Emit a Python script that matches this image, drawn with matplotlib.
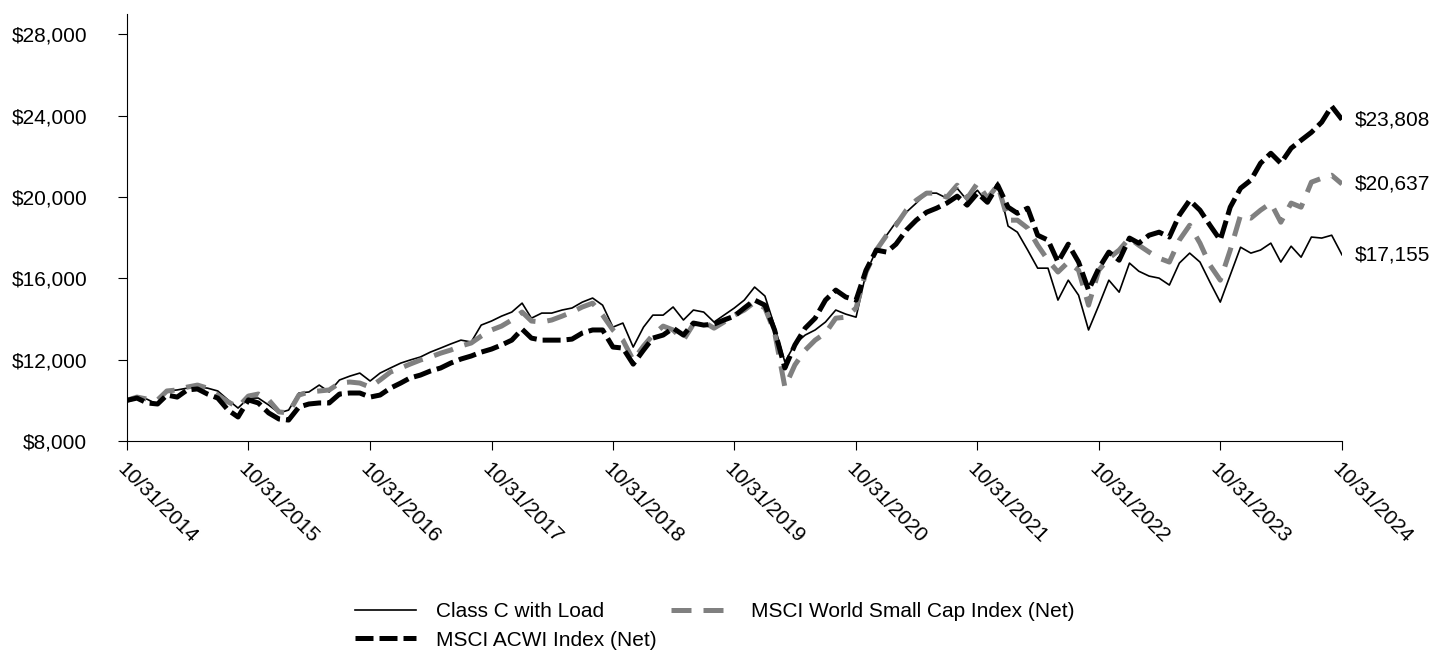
import pandas as pd
import matplotlib
matplotlib.use("Agg")
import matplotlib.pyplot as plt
import matplotlib.dates as mdates
from matplotlib.ticker import FuncFormatter

plt.rcParams['font.family'] = ['Liberation Sans', 'DejaVu Sans']

# monthly values, 10/31/2014 .. 10/31/2024
dates = pd.date_range('2014-10-31', periods=121, freq='ME')

class_c = [
    10000, 10200, 10050, 9800, 10460, 10510, 10600, 10650, 10600, 10460, 10020, 9620,
    10110, 10110, 9770, 9380, 9520, 10360, 10410, 10750, 10410, 11000, 11190, 11340,
    10950, 11340, 11590, 11830, 11980, 12130, 12370, 12570, 12770, 12960, 12870, 13700,
    13900, 14140, 14340, 14780, 14040, 14290, 14290, 14440, 14540, 14830, 15030, 14680,
    13600, 13800, 12620, 13600, 14190, 14190, 14590, 13950, 14440, 14340, 13850, 14190,
    14540, 14930, 15570, 15130, 13650, 11880, 12770, 13210, 13460, 13850, 14440, 14240,
    14090, 16260, 17390, 18120, 18760, 19250, 19700, 20190, 20190, 19940, 20430, 19840,
    20330, 19700, 20730, 18570, 18270, 17390, 16500, 16500, 14930, 15910, 15170, 13460,
    14680, 15910, 15320, 16750, 16350, 16110, 16010, 15670, 16750, 17240, 16800, 15810,
    14830, 16160, 17530, 17240, 17390, 17730, 16800, 17580, 17040, 18030, 17980, 18120,
    17155,
]

acwi = [
    10000, 10110, 9870, 9820, 10260, 10160, 10510, 10560, 10310, 10110, 9520, 9180,
    10020, 9870, 9380, 9080, 9030, 9670, 9820, 9870, 9870, 10310, 10360, 10360,
    10160, 10260, 10600, 10850, 11100, 11240, 11440, 11590, 11830, 12030, 12180, 12370,
    12520, 12720, 12960, 13500, 13060, 12960, 12960, 12960, 13010, 13310, 13460, 13460,
    12620, 12570, 11780, 12470, 13060, 13210, 13550, 13210, 13800, 13700, 13750, 13950,
    14140, 14540, 14930, 14680, 13460, 11590, 12720, 13550, 14040, 14930, 15420, 15080,
    14930, 16400, 17390, 17290, 17680, 18370, 18860, 19250, 19450, 19700, 20040, 19600,
    20190, 19740, 20580, 19500, 19200, 19450, 18120, 17880, 16800, 17680, 16800, 15420,
    16500, 17290, 16890, 17980, 17730, 18120, 18270, 18030, 19110, 19840, 19350, 18610,
    17880, 19500, 20430, 20830, 21660, 22150, 21660, 22400, 22790, 23180, 23680, 24460,
    23808,
]

small_cap = [
    10000, 10160, 10060, 10020, 10460, 10510, 10650, 10750, 10600, 10260, 9920, 9670,
    10210, 10310, 10020, 9430, 9380, 10260, 10410, 10460, 10510, 10850, 10900, 10850,
    10650, 11000, 11390, 11590, 11780, 11980, 12130, 12320, 12470, 12670, 12820, 13160,
    13460, 13650, 13950, 14340, 13900, 13850, 13950, 14140, 14340, 14590, 14780, 14190,
    13460, 12960, 11980, 12670, 13210, 13650, 13460, 12960, 13750, 13850, 13550, 13850,
    14190, 14440, 14830, 14540, 13360, 10650, 11740, 12470, 12960, 13310, 14040, 14090,
    14540, 16310, 17390, 18120, 18610, 19350, 19840, 20190, 20190, 19990, 20580, 19940,
    20680, 19940, 20580, 18860, 18860, 18470, 17630, 16890, 16310, 16800, 16400, 14680,
    16400, 16990, 17390, 17980, 17630, 17290, 16990, 16800, 17880, 18610, 17730, 16650,
    15910, 17390, 19110, 18960, 19350, 19700, 18760, 19700, 19500, 20730, 20920, 21070,
    20637,
]

names = ['Class C with Load', 'MSCI ACWI Index (Net)', 'MSCI World Small Cap Index (Net)']
end_labels = ['$17,155', '$23,808', '$20,637']

fig = plt.figure(figsize=(14.33, 6.54), dpi=100)
ax = fig.add_axes([0.0886, 0.3257, 0.8479, 0.6529])

l1, = ax.plot(dates, class_c, color='black', lw=1.2, label=names[0])
l3, = ax.plot(dates, small_cap, color='#808080', lw=3.6, dashes=(4, 2.4), label=names[2])
l2, = ax.plot(dates, acwi, color='black', lw=3.6, dashes=(3.6, 1.2), label=names[1])

ax.set_xlim(dates[0], dates[-1])
ax.set_ylim(8000, 29000)
ax.set_yticks(range(8000, 28001, 4000))
ax.yaxis.set_major_formatter(FuncFormatter(lambda v, p: '${:,.0f}'.format(v)))

ax.set_xticks(dates[::12])
ax.xaxis.set_major_formatter(mdates.DateFormatter('%m/%d/%Y'))
for lab in ax.get_xticklabels():
    lab.set_rotation(-45)
    lab.set_ha('left')
    lab.set_va('top')
    lab.set_rotation_mode('anchor')

ax.spines['top'].set_visible(False)
ax.spines['right'].set_visible(False)
ax.tick_params(axis='both', labelsize=15, length=6.5, color='black')
ax.tick_params(axis='x', pad=7)
ax.tick_params(axis='y', pad=22)

# end of line value labels
for series, txt in zip([class_c, acwi, small_cap], end_labels):
    ax.annotate(txt, (dates[-1], series[-1]), xytext=(9, 0), textcoords='offset points',
                va='center', ha='left', fontsize=15, annotation_clip=False)

fig.legend(handles=[l1, l2, l3], labels=names, ncol=2, loc='center left',
           bbox_to_anchor=(0.2407, 0.043), frameon=False, fontsize=15,
           handlelength=2.9, handletextpad=0.95, columnspacing=0.7,
           labelspacing=0.45, borderpad=0)

fig.savefig('out.png', dpi=100)
